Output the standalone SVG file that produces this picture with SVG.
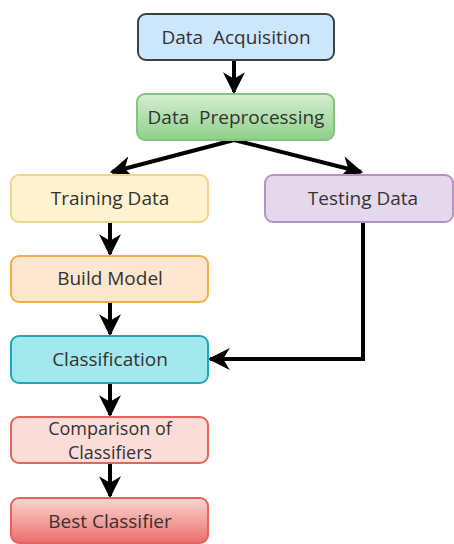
<svg xmlns="http://www.w3.org/2000/svg" width="454" height="544" viewBox="0 0 454 544">
<style>
.n text{font-family:"Open Sans","Noto Sans",sans-serif;font-size:19px;fill:#333;text-anchor:middle;dominant-baseline:central;white-space:pre}
.n text.s{font-size:18px}
.c{fill:none;stroke:#000;stroke-width:4;marker-end:url(#ah)}
</style>
<defs>
<marker id="ah" viewBox="0 0 10 10" refX="9" refY="5" markerWidth="5.5" markerHeight="5.5" markerUnits="strokeWidth" orient="auto"><path d="M0,0 L10,5 L0,10 L3,5 Z" fill="#000"/></marker>
<linearGradient id="gG" x1="0" y1="0" x2="0" y2="1"><stop offset="0" stop-color="#d5eed0"/><stop offset="1" stop-color="#8fd08a"/></linearGradient>
<linearGradient id="gR" x1="0" y1="0" x2="0" y2="1"><stop offset="0" stop-color="#fbd6d3"/><stop offset="1" stop-color="#ec6e6a"/></linearGradient>
</defs>
<g id="connectors">
<path class="c" d="M234,60 L234,92"/>
<path class="c" d="M234,140 L112,172"/>
<path class="c" d="M234,140 L361,172"/>
<path class="c" d="M110,222 L110,254"/>
<path class="c" d="M110,302 L110,334"/>
<path class="c" d="M363,222 L363,359 L210,359"/>
<path class="c" d="M110,383 L110,415"/>
<path class="c" d="M110,463 L110,496"/>
</g>
<g id="n1" class="n"><rect x="138" y="14" width="196" height="46" rx="8" fill="#cce6fb" stroke="#3d4245" stroke-width="2"/><text x="236" y="37" xml:space="preserve">Data  Acquisition</text></g>
<g id="n2" class="n"><rect x="137" y="94" width="197" height="46" rx="8" fill="url(#gG)" stroke="#86c282" stroke-width="2"/><text x="236" y="117" xml:space="preserve">Data  Preprocessing</text></g>
<g id="n3" class="n"><rect x="11" y="175" width="197" height="47" rx="8" fill="#fff2cf" stroke="#f2d58c" stroke-width="2"/><text x="110" y="198">Training Data</text></g>
<g id="n4" class="n"><rect x="265" y="175" width="188" height="47" rx="8" fill="#e6d8ec" stroke="#b594c2" stroke-width="2"/><text x="363" y="198">Testing Data</text></g>
<g id="n5" class="n"><rect x="11" y="256" width="197" height="46" rx="8" fill="#fde6cf" stroke="#f2ae44" stroke-width="2"/><text x="110" y="278">Build Model</text></g>
<g id="n6" class="n"><rect x="11" y="336" width="197" height="47" rx="8" fill="#a2e8ec" stroke="#1fa9b8" stroke-width="2"/><text x="110" y="359">Classification</text></g>
<g id="n7" class="n"><rect x="11" y="417" width="197" height="46" rx="8" fill="#fcdcd8" stroke="#e2645c" stroke-width="2"/><text class="s" x="110" y="428">Comparison of</text><text class="s" x="110" y="452">Classifiers</text></g>
<g id="n8" class="n"><rect x="11" y="498" width="197" height="45" rx="8" fill="url(#gR)" stroke="#e2645c" stroke-width="2"/><text x="110" y="521">Best Classifier</text></g>
</svg>
